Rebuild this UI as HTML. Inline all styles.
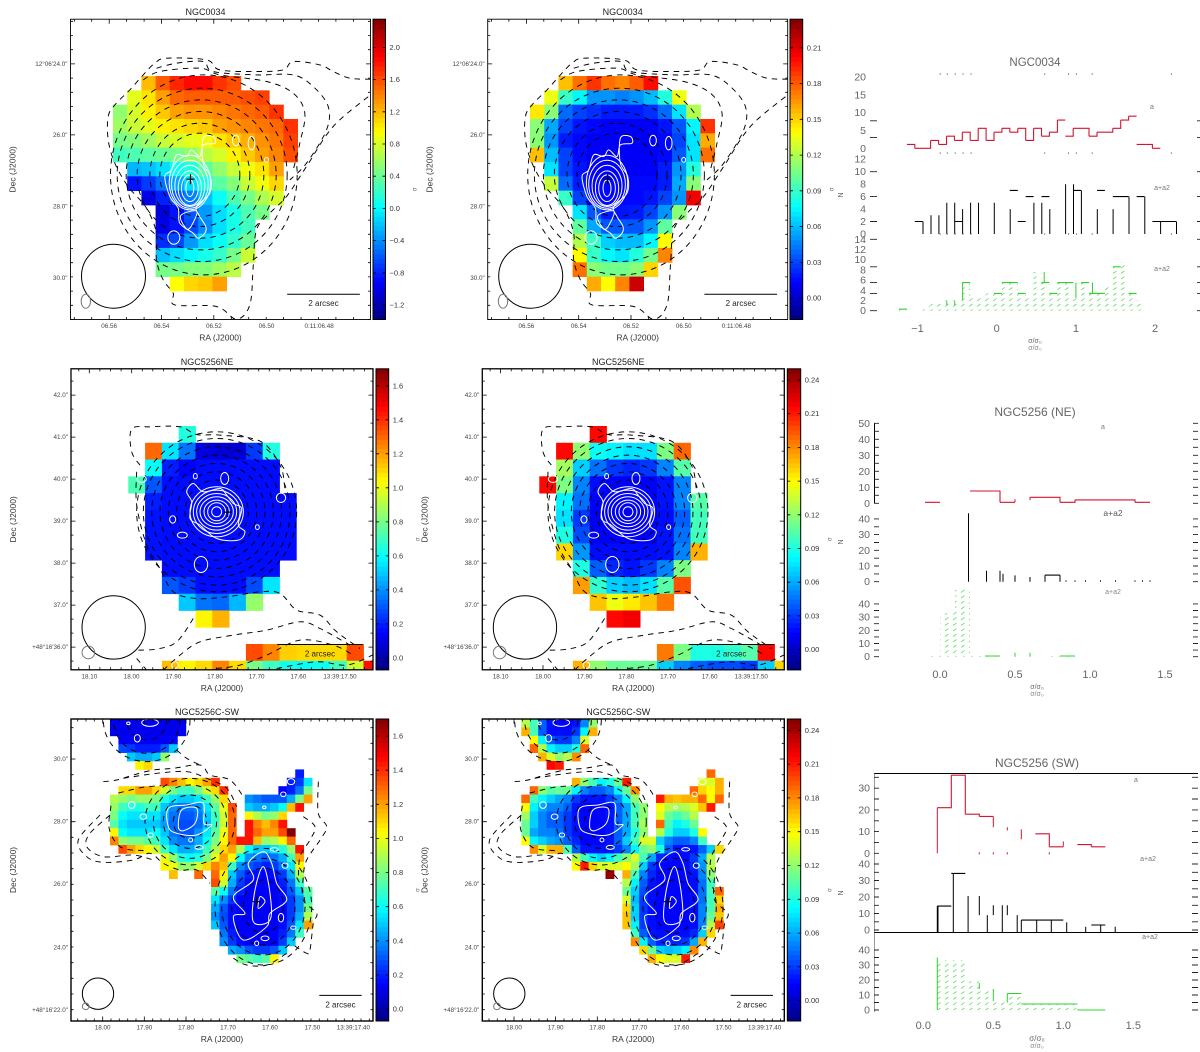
<!DOCTYPE html>
<html lang="en">
<head>
<meta charset="utf-8">
<title>NGC0034 and NGC5256 maps and histograms</title>
<style>
html,body{margin:0;padding:0;background:#fff;width:1200px;height:1052px;overflow:hidden}
svg{display:block;font-family:"Liberation Sans",sans-serif}
</style>
</head>
<body>
<svg id="fig" width="1200" height="1052" viewBox="0 0 1200 1052">
<defs>
<pattern id="hatch" width="8" height="5.5" patternUnits="userSpaceOnUse">
<line x1="1" y1="4" x2="4.5" y2="1.5" stroke="#6fdc6f" stroke-width="0.8"/>
</pattern>
</defs>
</svg>
<script>
/* ---------- heat-map values (one segment = [startColumn, value, value, ...]) ---------- */
const map1Rows=[
[[2,1.2,1.55,1.75,1.85,1.85,1.7,1.6]],
[[1,.85,1.05,1.3,1.5,1.55,1.55,1.55,1.55,1.6,1.65]],
[[0,.55,.8,1.0,1.15,1.3,1.35,1.35,1.4,1.45,1.5,1.55,1.7]],
[[0,.6,.75,.85,1.0,1.05,1.1,1.15,1.3,1.35,1.4,1.45,1.5,1.7]],
[[0,.45,.5,.6,.75,.8,.85,.9,1.05,1.15,1.25,1.35,1.45,1.65]],
[[0,.25,.3,.35,.4,.45,.55,.7,.8,1.0,1.15,1.3,1.4,1.6]],
[[1,-.25,-.2,-.1,.05,.15,.35,.55,.75,.9,1.05,1.3]],
[[1,-.85,-.7,-.5,-.3,-.1,.1,.35,.5,.75,.9,1.1]],
[[2,-1.0,-.8,-.6,-.45,-.2,.05,.3,.45,.65,.8]],
[[3,-1.05,-.85,-.6,-.35,-.1,.1,.3,.45]],
[[3,-1.0,-.85,-.65,-.4,-.1,.1,.25]],
[[3,-.75,-.65,-.35,-.1,.05,.2,.4]],
[[3,-.2,-.1,0,.1,.2,.45,.75]],
[[3,.45,.45,.5,.5,.6,.7]],
[[4,.95,1.1,1.15,1.3]]
];
const map2Rows=[
[[2,.155,.175,.19,.175,.17,.18,.2]],
[[1,.135,.09,.075,.05,.05,.045,.05,.06,.085,.135]],
[[0,.145,.11,.04,.03,.025,.02,.02,.02,.025,.04,.07,.12]],
[[0,.11,.055,.03,.018,.015,.012,.012,.012,.012,.018,.035,.075,.19]],
[[0,.11,.05,.02,.015,.012,.012,.012,.012,.012,.015,.03,.07,.16]],
[[0,.155,.06,.03,.015,.012,.012,.012,.012,.012,.015,.035,.07,.175]],
[[1,.07,.03,.018,.012,.012,.012,.012,.012,.02,.05,.085]],
[[1,.125,.04,.02,.015,.015,.015,.015,.015,.02,.055,.11]],
[[2,.09,.03,.015,.015,.015,.015,.018,.03,.05,.205]],
[[3,.07,.035,.02,.018,.02,.03,.05,.11]],
[[3,.1,.055,.035,.035,.035,.05,.1]],
[[3,.12,.09,.065,.06,.06,.075,.14]],
[[3,.14,.09,.075,.07,.085,.105,.17]],
[[3,.175,.11,.105,.105,.11,.15]],
[[4,.16,.14,.17,.215]]
];
const map3Rows=[
[[3,.65]],
[[1,1.3,.55,.35,.1,.08,.08,.25,.65]],
[[1,.6,.2,.15,.17,.17,.17,.17,.17]],
[[0,.72,.3,.17,.17,.17,.17,.17,.17,.17]],
[[1,.2,.17,.17,.17,.17,.17,.17,.17,.17]],
[[1,.18,.17,.17,.17,.17,.17,.17,.17,.17]],
[[1,.18,.17,.17,.17,.17,.17,.17,.17,.17]],
[[1,.18,.17,.17,.17,.17,.17,.17,.17,.17]],
[[2,.17,.17,.17,.17,.17,.17,.17]],
[[2,.3,.25,.17,.17,.17,.28,.55]],
[[3,.5,.35,.33,.47,.85]],
[[4,1.05,1.17]],
[],
[[7,1.35,1.25,1.12,1.1,1.1,1.1,1.35]],
[[2,1.15,1.05,1.1,1.25,1.1,.8,.7,.62,.6,.62,.7,.95,1.45]]
];
const map4Rows=[
[[3,.215]],
[[1,.215,.12,.085,.08,.075,.075,.115,.19]],
[[1,.125,.07,.045,.03,.025,.03,.05,.105]],
[[0,.215,.115,.05,.018,.015,.015,.015,.02,.05]],
[[1,.08,.045,.015,.015,.015,.015,.02,.05,.105]],
[[1,.075,.03,.012,.012,.012,.012,.018,.04,.1]],
[[1,.09,.035,.015,.015,.015,.015,.02,.045,.1]],
[[1,.16,.055,.018,.018,.018,.018,.02,.05,.17]],
[[2,.09,.04,.025,.02,.03,.05,.115]],
[[2,.175,.095,.07,.065,.075,.105,.195]],
[[3,.165,.145,.155,.165,.185]],
[[4,.215,.22]],
[],
[[7,.185,.115,.09,.09,.095,.105,.215]],
[[2,.17,.12,.11,.11,.11,.07,.05,.04,.035,.035,.03,.07,.16]]
];
const map5Rows=[
[[0,.12,.12,.12,.12,.12,.12,.12,.12,.12]],
[[0,.12,.12,.12,.12,.12,.12,.12,.12,.13]],
[[1,.14,.14,.14,.14,.14,.14,.16]],
[[1,.28,.25,.2,.2,.2,.3,.5]],
[[2,.5,.45,.45,.5,.85]],
[[3,1.05,1.1]],
[[22,.2]],
[[6,1.35,1.25,1.15,1.05,1.1,1.2,1.4],[21,.2,.25,.55]],
[[1,1.1,1.1,1.2,1.2,1.1,.95,.8,.7,.7,.8,.95,1.1,1.4],[20,.15,.2,.35,.8]],
[[0,.9,.85,.8,.85,.85,.8,.65,.55,.5,.5,.55,.7,.85,1.1],[16,.4,.35,.3,.3,.3,.45,.8,1.2]],
[[0,.85,.7,.65,.65,.7,.7,.5,.4,.35,.35,.4,.55,.75,1.0,1.35],[16,.5,.45,.45,.5,.6,1.15,1.45]],
[[0,.8,.6,.55,.55,.55,.55,.45,.35,.3,.3,.35,.5,.7,.95,1.3],[16,1.05,.9,.8,.85,1.1]],
[[0,.75,.55,.5,.5,.5,.5,.42,.33,.28,.28,.33,.48,.68,.95,1.3],[16,1.45,1.25,1.15,1.25,1.45]],
[[0,1.05,.6,.55,.55,.55,.6,.5,.35,.3,.3,.4,.55,.75,1.0,1.3],[16,1.45,1.3,1.2,1.2,1.35,1.7]],
[[0,1.25,.85,.8,.8,.75,.7,.55,.4,.35,.35,.45,.6,.8,1.05,1.3,1.45,1.45,1.15,.85,.9,1.05,1.3]],
[[1,1.35,1.2,1.1,1.05,.95,.7,.55,.45,.45,.5,.7,.9,1.1,1.2,.9,.6,.5,.5,.55,.65,.85,1.45]],
[[6,1.0,.85,.65,.6,.65,.8,1.0,1.2,1.05,.6,.4,.35,.3,.35,.45,.7,1.2]],
[[6,1.05,1.0,.85,.85,.95,1.1,1.25,1.15,.7,.4,.3,.25,.2,.25,.35,.55,1.05]],
[[7,1.15],[10,1.3],[12,1.3,1.05,.5,.3,.2,.17,.15,.17,.25,.45,.9]],
[[12,1.35,.95,.45,.25,.17,.15,.14,.15,.2,.35,.7]],
[[12,.75,.6,.35,.2,.15,.14,.14,.14,.17,.3,.5,.75]],
[[12,.55,.4,.25,.15,.14,.14,.14,.14,.17,.25,.4,.7]],
[[12,.45,.3,.17,.14,.14,.14,.14,.14,.15,.25,.4,.8]],
[[12,.4,.28,.17,.14,.14,.14,.14,.14,.15,.25,.45,.9]],
[[12,.5,.3,.17,.14,.14,.14,.14,.14,.17,.3,.55,1.2]],
[[13,.35,.2,.14,.14,.14,.14,.14,.2,.35,.7]],
[[13,.4,.25,.17,.14,.14,.14,.14,.25,.5]],
[[14,.45,.4,.3,.25,.25,.3,.5]],
[[15,.8,.75,.7,.75,1.05]]
];
const map6Rows=[
[[0,.13,.1,.04,.02,.015,.015,.02,.05,.12]],
[[0,.17,.1,.04,.018,.018,.018,.03,.08,.17]],
[[1,.15,.08,.04,.03,.03,.05,.14]],
[[1,.19,.13,.08,.07,.07,.09,.19]],
[[2,.17,.14,.12,.13,.18]],
[[3,.215,.21]],
[[22,.19]],
[[6,.17,.12,.1,.08,.09,.11,.21],[21,.14,.14,.17]],
[[1,.19,.12,.105,.11,.11,.08,.05,.04,.04,.05,.08,.11,.18],[20,.19,.16,.15,.17]],
[[0,.19,.1,.08,.07,.06,.05,.03,.02,.02,.02,.03,.05,.08,.12],[16,.21,.17,.165,.17,.17,.19,.15,.19]],
[[0,.15,.08,.06,.05,.05,.04,.02,.016,.016,.016,.02,.04,.06,.1,.12],[16,.15,.13,.125,.13,.14,.165,.21]],
[[0,.125,.07,.05,.04,.04,.03,.02,.016,.016,.016,.02,.04,.06,.1,.12],[16,.14,.11,.1,.11,.13]],
[[0,.11,.07,.05,.04,.04,.03,.02,.016,.016,.016,.02,.04,.06,.1,.125],[16,.19,.1,.08,.09,.11]],
[[0,.11,.06,.05,.05,.045,.03,.02,.016,.016,.016,.02,.04,.06,.09,.12],[16,.13,.09,.07,.07,.09,.15]],
[[0,.15,.08,.07,.06,.055,.04,.025,.016,.016,.016,.02,.04,.07,.1,.14,.14,.07,.05,.04,.04,.05,.1]],
[[1,.18,.14,.17,.17,.1,.04,.02,.02,.02,.02,.03,.05,.08,.11,.12,.09,.04,.02,.02,.02,.04,.07,.16]],
[[6,.13,.1,.08,.07,.08,.1,.12,.14,.1,.06,.025,.018,.016,.018,.03,.06,.13]],
[[6,.15,.21,.16,.14,.14,.14,.15,.125,.07,.03,.018,.016,.016,.018,.025,.055,.13]],
[[10,.245],[12,.17,.1,.05,.025,.016,.016,.016,.016,.02,.05,.12]],
[[12,.13,.08,.04,.02,.016,.016,.016,.016,.018,.045,.1]],
[[12,.11,.07,.035,.018,.016,.016,.016,.016,.018,.045,.1,.19]],
[[12,.14,.065,.03,.018,.016,.016,.016,.016,.018,.045,.1,.16]],
[[12,.16,.07,.03,.018,.016,.016,.016,.016,.018,.05,.1,.17]],
[[12,.165,.07,.03,.018,.016,.016,.016,.016,.018,.05,.11,.165]],
[[12,.165,.08,.03,.018,.016,.016,.016,.016,.018,.05,.13,.2]],
[[13,.1,.04,.02,.018,.018,.018,.018,.025,.07,.16]],
[[13,.18,.08,.04,.025,.025,.025,.03,.06,.17]],
[[14,.16,.11,.07,.065,.07,.08,.18]],
[[15,.17,.15,.14,.14,.21]]
];

/* ---------- contour levels, in map-offset units (0..~900 across a frame) ---------- */
const row1DashRings=[[388,467,120,125],[388,467,150,155],[390,467,190,190],[392,467,225,225],[395,467,255,260],[400,467,280,300]];
const row1DashLines=[
[[900,180],[838,177],[788,157],[748,137],[668,127],[638,152],[558,157],[448,152],[408,122],[288,117],[253,132],[218,167],[178,212],[133,257],[113,292],[113,362],[133,432],[173,502],[228,567],[258,642],[258,722],[278,782],[308,822],[313,857],[438,862],[498,900],[538,857],[548,742],[558,632],[598,582],[648,532],[708,442],[788,322],[900,227]],
[[258,147],[318,132],[398,127],[428,157],[558,167],[668,167],[728,202],[773,262],[768,332],[708,432],[658,482]],
[[218,182],[268,157],[388,147],[448,167],[588,187],[668,222],[703,282],[688,372],[668,452]]
];
const row1WhiteRings=[[358,507,12,25],[358,507,25,40],[358,507,35,52],[358,500,45,62],[358,495,55,72],[358,490,62,82]];
const row1WhiteLoops=[
[[398,357],[428,352],[433,372],[398,377],[388,412],[363,392],[348,412],[318,407],[303,452],[283,472],[298,532],[323,567],[328,612],[368,642],[383,657],[403,642],[406,622],[388,592],[378,562],[418,522],[420,472],[398,432]],
[[330,590],[350,630],[368,610],[378,575]]
];
const row1WhiteBlobs=[[496,364,10,16],[543,372,10,20],[588,422,6,7],[310,655,18,20]];

const row2DashRings=[[437,429,95,95],[437,429,120,120],[437,429,145,145],[437,429,170,170],[437,429,195,195],[437,429,220,220],[437,429,240,240]];
const row2DashLines=[
[[207,289],[182,249],[182,181],[237,174],[327,174],[377,197],[447,199],[567,217],[627,289],[642,359]],
[[197,309],[197,409],[227,529],[267,599],[307,669],[377,689],[467,684],[567,669],[627,674],[677,724],[747,739],[797,789],[867,839]],
[[367,749],[317,819],[257,841],[187,844]],
[[197,869],[227,904]],
[[277,904],[327,859],[387,819],[487,799],[587,784],[687,759],[747,779],[837,829]],
[[437,899],[507,889],[587,859],[687,814],[787,829],[847,859]],
[[617,899],[737,879],[827,889],[905,859]]
];
const row2WhiteRings=[[437,429,15,15],[437,429,27,27],[437,429,38,35],[437,429,50,45],[437,429,60,55],[437,429,70,65],[437,429,80,75]];
const row2WhiteLoops=[
[[347,369],[367,344],[397,369],[447,359],[467,379],[487,404],[512,419],[502,469],[522,489],[502,514],[437,509],[387,469],[357,449],[362,399]]
];
const row2WhiteBlobs=[[373,322,6,8],[461,329,12,18],[630,387,14,14],[305,452,9,11],[559,475,6,7],[334,499,15,9],[390,587,20,24],[212,331,14,10],[312,889,10,10]];

const row3DashRings=[[357,308,50,50],[357,308,80,80],[357,308,110,110],[357,308,135,130],[577,563,60,80],[577,563,95,115],[577,563,125,145],[577,563,145,175],[227,3,60,60],[227,3,100,100],[227,3,130,125]];
const row3DashLines=[
[[97,188],[137,183],[187,168],[247,153],[307,148],[387,138],[417,168],[477,183],[517,233]],
[[87,288],[22,363],[47,413],[97,430],[187,423],[237,403],[277,433],[327,453],[377,453],[417,493]],
[[157,178],[257,163],[347,158],[407,178],[467,208],[497,263]],
[[117,288],[57,343],[47,383],[97,413],[187,408],[247,423]],
[[742,188],[742,283],[767,323],[747,363],[707,423],[697,473],[697,543],[737,583],[727,613],[717,693],[707,703],[667,678]],
[[697,293],[732,323],[717,363],[687,413],[682,483]],
[[317,93],[347,118],[387,138]],
[[487,718],[527,738],[587,738],[647,703]],
[[142,222],[215,205],[270,200]],
[[120,260],[115,330],[150,385],[220,395]]
];
const row3WhiteRings=[];
const row3WhiteLoops=[
[[292,268],[347,258],[397,253],[399,313],[422,318],[377,348],[317,343],[292,323]],
[[332,273],[377,268],[372,313],[337,335],[322,323]],
[[577,398],[602,433],[617,493],[647,543],[597,583],[587,623],[517,663],[487,593],[522,583],[487,533],[547,483],[532,433]],
[[577,443],[597,523],[597,603],[547,608],[552,513]],
[[567,533],[582,548],[562,568]]
];
const row3WhiteBlobs=[[182,258,10,10],[217,293,10,8],[239,348,8,6],[359,363,6,6],[384,385,12,6],[610,391,12,5],[642,440,9,8],[660,188,11,9],[637,226,8,7],[580,265,5,4],[630,596,8,13],[667,626,8,5],[582,658,12,7],[557,673,6,7],[237,11,25,11],[199,58,9,11],[172,13,5,4]];

/* ---------- map axis ticks and labels ---------- */
const row1XTicks=[116,273,430,588,746];
const row1YTicks=[134,347,562,777];
const row1YLabels=['12°06\'24.0"','26.0"','28.0"','30.0"'];
const row1XLabels=['06.56','06.54','06.52','06.50','0:11:06.48'];
const row2XTicks=[55,182,307,432,557,682,807];
const row2YTicks=[79,205,331,457,583,709,835];
const row2XLabels=['18.10','18.00','17.90','17.80','17.70','17.60','13:39:17.50'];
const row2YLabels=['42.0"','41.0"','40.0"','39.0"','38.0"','37.0"','+48°16\'36.0"'];
const row3XTicks=[95,220,345,471,597,724,847];
const row3YTicks=[120,308,495,685,873];
const row3XLabels=['18.00','17.90','17.80','17.70','17.60','17.50','13:39:17.40'];
const row3YLabels=['30.0"','28.0"','26.0"','24.0"','+48°16\'22.0"'];

/* ---------- colour-bar ticks ---------- */
const bar1Ticks=[-1.2,-.8,-.4,0,.4,.8,1.2,1.6,2.0];
const bar1Labels=['−1.2','−0.8','−0.4','0.0','0.4','0.8','1.2','1.6','2.0'];
const bar2Ticks=[0,.03,.06,.09,.12,.15,.18,.21];
const bar2Labels=['0.00','0.03','0.06','0.09','0.12','0.15','0.18','0.21'];
const bar3Ticks=[0,.2,.4,.6,.8,1,1.2,1.4,1.6];
const bar3Labels=['0.0','0.2','0.4','0.6','0.8','1.0','1.2','1.4','1.6'];
const bar4Ticks=[0,.03,.06,.09,.12,.15,.18,.21,.24];
const bar4Labels=['0.00','0.03','0.06','0.09','0.12','0.15','0.18','0.21','0.24'];

/* ---------- histogram series ---------- */
const hist1Red=[1.1,0,0,2.2,1.1,3.4,2.2,4.5,2.2,5.6,2.2,4.5,5.6,4.5,5.6,2.2,5.6,3.4,4.5,7.9,3.4,5.6,5.6,3.4,4.5,4.5,5.6,7.9,9,1.1,1.1,0];
const hist1BlackCaps=[null,2,null,null,null,null,2,null,null,null,null,null,null,7,2,6,null,6,null,null,null,7,null,null,7,null,6,6,null,6,null,2,2,2];
const hist1BlackStems=[[-.93,0,2],[-.83,0,3],[-.73,0,3],[-.63,0,5],[-.53,0,5],[-.43,0,4],[-.33,0,5],[-.23,0,5],[-.03,0,5],[.17,0,4],[.47,0,5],[.57,0,5],[.67,0,4],[.87,0,8],[.97,0,8],[1.07,0,7],[1.27,0,4],[1.47,0,4],[1.67,0,6],[1.87,0,6],[2.07,0,2],[2.27,0,2]];
const hist1GreenHatch=[.3,0,0,1,1.5,2,2,2,5.5,2.5,3,3.4,3.4,5.5,5.5,3.4,3,7.6,5.5,3.4,5.5,5.5,3,5.5,3.4,3.4,5,8.6,9.5,3.4,2,0];
const hist1GreenCaps=[.3,null,null,null,null,null,null,null,5.5,null,null,null,3.4,5.5,5.5,3.4,null,null,5.5,3.4,5.5,5.5,null,5.5,3.4,3.4,null,8.6,null,3.4];
const hist1GreenStems=[[-.63,1,2],[-.53,1,2],[-.43,2,5.5],[.6,5.5,7.6],[1,2.5,5.5],[1.21,3.4,5.5]];
const hist1RedTicks=[3,7.7];
const hist1RedLabels=[0,5,10,15,20];
const hist1BlackTicks=[2,6,10];
const hist1BlackLabels=[0,2,4,6,8,10,12];
const hist1GreenTicks=[0,3.4,5.5,8.6,14];
const hist1GreenLabels=[0,2,4,6,8,10,12,14];
const hist1XTicks=[-1,0,1,2];
const hist1XLabels=['−1','0','1','2'];
const hist1Dots=[-.72,-.63,-.53,-.43,-.33,.6,.9,1,1.2,2.2];

const hist2Red=[.6,null,null,7.7,7.7,.6,null,3.75,3.75,.6,2.1,2.1,2.1,2.1,.6];
const hist2RedStems=[[.5,.6,2.5],[.6,2,3.75]];
const hist2BlackCaps=[null,null,null,null,null,null,null,null,4.2];
const hist2BlackStems=[[.19,0,43.6],[.31,0,7],[.4,0,7],[.42,0,5],[.5,0,4],[.6,0,3],[.7,0,4.2],[.8,0,4.2],[.84,0,.8],[.9,0,.8],[.97,0,.8],[1.07,0,.8],[1.17,0,.8],[1.3,0,.8],[1.35,0,.8],[1.4,0,.8]];
const hist2GreenHatch=[.5,33,52,2,.5,0,0,0,.5,.5];
const hist2GreenCaps=[null,null,null,null,.5,null,null,null,null,.5];
const hist2GreenStems=[[.5,0,3],[.6,0,3]];
const hist2RedTicks=[0,5,10,15,20,25,30,35,40,45,50];
const hist2RedLabels=[0,10,20,30,40,50];
const hist2BlackTicks=[0,5,10,15,20,25,30,35,40];
const hist2BlackLabels=[0,10,20,30,40];
const hist2GreenTicks=[0,5,10,15,20,25,30,35,40];
const hist2GreenLabels=[0,10,20,30,40];
const hist2XTicks=[0,.5,1,1.5];
const hist2XLabels=['0.0','0.5','1.0','1.5'];

const hist3Red=[21,36,18,17,null,null,null,9,3,null,4,3];
const hist3RedStems=[[.1,0,21],[.5,12,17],[.6,10.5,12],[.7,6.5,11],[1.0,3,5.5],[.4,-.5,.5],[.5,-.5,.5],[.6,-.5,.5],[.9,-.5,.5]];
const hist3BlackCaps=[14.5,34.3,null,null,null,null,6,6,6,null,null,3];
const hist3BlackStems=[[.1,-1.4,14.5],[.105,-1.4,14.5],[.214,-1.4,34.3],[.32,-1.4,20.6],[.4,9,20.6],[.457,-1.4,9],[.5,9,15],[.564,-1.4,15],[.6,9,15],[.671,-1.4,9],[.7,-1.4,6],[.81,-1.4,6],[.914,-1.4,6],[1.024,-1.4,4.6],[1.16,-1.4,2],[1.267,-1.4,3],[1.371,-1.4,2]];
const hist3GreenHatch=[33,33,19,14,5,11,4,4,4,4,0,0];
const hist3GreenCaps=[null,null,null,null,null,11,4,4,4,4,0,0];
const hist3GreenStems=[[.1,0,35],[.4,14,18],[.5,6,14],[.6,5,11]];
const hist3RedTicks=[0,5,10,15,20,25,30,35];
const hist3RedLabels=[0,10,20,30];
const hist3BlackTicks=[0,5,10,15,20,25,30,35,40];
const hist3BlackLabels=[0,10,20,30,40];
const hist3GreenTicks=[0,5,10,15,20,25,30,35,40];
const hist3GreenLabels=[0,10,20,30,40];
const hist3XTicks=[0,.5,1,1.5];
const hist3XLabels=['0.0','0.5','1.0','1.5'];

/* ---------- drawing ---------- */
const root=document.getElementById('fig');
const svgNS=root.namespaceURI;
function make(tag,attrs,parent,content){
  const el=document.createElementNS(svgNS,tag);
  for(const k in attrs)el.setAttribute(k,attrs[k]);
  if(content!==undefined)el.textContent=content;
  parent.appendChild(el);
  return el;
}
function label(parent,x,y,str,size,anchor,fill){
  const el=make('text',{x:x,y:y,'font-size':size,'text-anchor':anchor||'middle',fill:fill||'#333'},parent,str);
  
  
  return el;
}
function jet(t){
  t=Math.max(0,Math.min(1,t));
  const ch=function(c){return Math.round(255*Math.max(0,Math.min(1,1.5-Math.abs(4*t-c))));};
  return 'rgb('+ch(3)+','+ch(2)+','+ch(1)+')';
}
function smooth(pts,closed){
  const n=pts.length;
  const at=function(i){return closed?pts[(i+n)%n]:pts[Math.max(0,Math.min(n-1,i))];};
  let d='M'+pts[0][0]+' '+pts[0][1];
  const last=closed?n:n-1;
  for(let i=0;i<last;i++){
    const p0=at(i-1),p1=at(i),p2=at(i+1),p3=at(i+2);
    d+='C'+(p1[0]+(p2[0]-p0[0])/6).toFixed(1)+' '+(p1[1]+(p2[1]-p0[1])/6).toFixed(1)+' '+(p2[0]-(p3[0]-p1[0])/6).toFixed(1)+' '+(p2[1]-(p3[1]-p1[1])/6).toFixed(1)+' '+p2[0].toFixed(1)+' '+p2[1].toFixed(1);
  }
  return d+(closed?'Z':'');
}
function drawMap(p){
  const g=make('g',{},root);
  
  
  const mx=function(u){return p.fx+u/3;};
  const my=function(v){return p.fy+v/3;};
  const clipId='clip-'+p.name;
  const cp=make('clipPath',{id:clipId},g);
  make('rect',{x:p.fx,y:p.fy,width:p.fw,height:p.fh},cp);
  const inner=make('g',{'clip-path':'url(#'+clipId+')'},g);
  const colorOf=function(v){return jet((v-p.vmin)/(p.vmax-p.vmin));};
  const gx=function(c){return p.gx+c*p.cw;};
  const gy=function(r){return p.gy+r*p.ch;};
  p.rows.forEach(function(row,r){
    row.forEach(function(seg){
      seg.slice(1).forEach(function(v,i){
        const c=seg[0]+i;
        const cell=make('rect',{x:gx(c).toFixed(2),y:gy(r).toFixed(2),width:(p.cw+.4).toFixed(2),height:(p.ch+.4).toFixed(2),fill:colorOf(v)},inner);
        
        
      });
    });
  });
  const c=p.contours;
  c.dashRings.forEach(function(e){
    const el=make('ellipse',{cx:mx(e[0]),cy:my(e[1]),rx:e[2]/3,ry:e[3]/3,fill:'none',stroke:'#000','stroke-width':.95,'stroke-dasharray':'5.5 5'},inner);
    
    
  });
  c.dashLines.forEach(function(line){
    const pts=line.map(function(q){return [mx(q[0]),my(q[1])];});
    const el=make('path',{d:smooth(pts,false),fill:'none',stroke:'#000','stroke-width':.95,'stroke-dasharray':'5.5 5'},inner);
    
    
  });
  c.whiteRings.concat(c.whiteBlobs).forEach(function(e){
    const el=make('ellipse',{cx:mx(e[0]),cy:my(e[1]),rx:e[2]/3,ry:e[3]/3,fill:'none',stroke:'#fff','stroke-width':1},inner);
    
    
  });
  c.whiteLoops.forEach(function(loop){
    const pts=loop.map(function(q){return [mx(q[0]),my(q[1])];});
    const el=make('path',{d:smooth(pts,true),fill:'none',stroke:'#fff','stroke-width':1},inner);
    
    
  });
  const beam=make('circle',{cx:mx(p.beam[0]),cy:my(p.beam[1]),r:p.beam[2]/3,fill:'none',stroke:'#000','stroke-width':1},inner);
  
  
  const beam2=make('ellipse',{cx:mx(p.psf[0]),cy:my(p.psf[1]),rx:p.psf[2]/3,ry:p.psf[3]/3,fill:'none',stroke:'#777','stroke-width':1},inner);
  
  
  const sb=make('line',{x1:mx(p.scale[0]),x2:mx(p.scale[1]),y1:my(p.scale[2]),y2:my(p.scale[2]),stroke:'#000','stroke-width':1},inner);
  
  
  label(inner,mx((p.scale[0]+p.scale[1])/2),my(p.scale[2])+12,'2 arcsec',8,'middle','#222');
  if(p.cross){
    const cr=make('path',{d:'M'+(mx(p.cross[0])-4)+' '+my(p.cross[1])+'h8M'+mx(p.cross[0])+' '+(my(p.cross[1])-5)+'v10',stroke:'#000','stroke-width':1.2,fill:'none'},inner);
    
    
  }
  /* frame and ticks */
  const frame=make('rect',{x:p.fx,y:p.fy,width:p.fw,height:p.fh,fill:'none',stroke:'#000','stroke-width':p.sw},g);
  
  
  let td='';
  const xStep=(p.xTicks[1]-p.xTicks[0])/p.xSub;
  const x0=p.xTicks[0]%xStep;
  for(let u=x0;u<p.fw*3;u+=xStep){
    const major=p.xTicks.some(function(t){return Math.abs(t-u)<1;});
    const len=major?4.5:2.5;
    td+='M'+mx(u).toFixed(1)+' '+p.fy+'v'+len+'M'+mx(u).toFixed(1)+' '+(p.fy+p.fh)+'v-'+len;
  }
  const yStep=(p.yTicks[1]-p.yTicks[0])/p.ySub;
  const y0=p.yTicks[0]%yStep;
  for(let v=y0;v<p.fh*3;v+=yStep){
    const major=p.yTicks.some(function(t){return Math.abs(t-v)<1;});
    const len=major?4.5:2.5;
    td+='M'+p.fx+' '+my(v).toFixed(1)+'h'+len+'M'+(p.fx+p.fw)+' '+my(v).toFixed(1)+'h-'+len;
  }
  const ticks=make('path',{d:td,stroke:'#000','stroke-width':.8,fill:'none'},g);
  
  
  p.xTicks.forEach(function(t,i){label(g,mx(t),p.fy+p.fh+8.5,p.xLabels[i],6.3,'middle','#444');});
  p.yTicks.forEach(function(t,i){label(g,p.fx-3,my(t)+2,p.yLabels[i],6.3,'end','#444');});
  label(g,p.fx+p.fw/2-2+p.titleShift,p.fy-4,p.title,9,'middle','#222');
  label(g,p.fx+p.fw/2,p.fy+p.fh+21,'RA (J2000)',8.5,'middle','#333');
  const yl=label(g,0,0,'Dec (J2000)',8.5,'middle','#333');
  yl.setAttribute('transform','translate('+(p.fx-55)+' '+(p.fy+p.fh/2)+') rotate(-90)');
  /* colour bar */
  const byOf=function(v){return p.fy+(p.vmax-v)/(p.vmax-p.vmin)*p.fh;};
  const steps=64;
  for(let i=0;i<steps;i++){
    const t0=i/steps;
    const seg=make('rect',{x:p.bx,y:(p.fy+p.fh*(1-t0-1/steps)).toFixed(2),width:p.bw,height:(p.fh/steps+.5).toFixed(2),fill:jet(t0+.5/steps)},g);
    
    
  }
  const bf=make('rect',{x:p.bx,y:p.fy,width:p.bw,height:p.fh,fill:'none',stroke:'#000','stroke-width':1},g);
  
  
  p.barTicks.forEach(function(v,i){
    const y=byOf(v);
    const t=make('path',{d:'M'+p.bx+' '+y.toFixed(1)+'h3M'+(p.bx+p.bw)+' '+y.toFixed(1)+'h-3',stroke:'#000','stroke-width':.8},g);
    
    
    label(g,p.bx+p.bw+4,y+2.5,p.barLabels[i],7.5,'start','#333');
  });
  const cl=label(g,0,0,'σ',6,'middle','#666');
  cl.setAttribute('transform','translate('+(p.bx+p.bw+31)+' '+(p.fy+p.fh/2+20)+') rotate(-90)');
}
const row1Contours={dashRings:row1DashRings,dashLines:row1DashLines,whiteRings:row1WhiteRings,whiteLoops:row1WhiteLoops,whiteBlobs:row1WhiteBlobs};
const row2Contours={dashRings:row2DashRings,dashLines:row2DashLines,whiteRings:row2WhiteRings,whiteLoops:row2WhiteLoops,whiteBlobs:row2WhiteBlobs};
const row3Contours={dashRings:row3DashRings,dashLines:row3DashLines,whiteRings:row3WhiteRings,whiteLoops:row3WhiteLoops,whiteBlobs:row3WhiteBlobs};
const row1Common={fy:19.2,fw:300,fh:300.3,sw:.9,gy:76,cw:14.2,ch:14.33,xTicks:row1XTicks,yTicks:row1YTicks,xLabels:row1XLabels,yLabels:row1YLabels,xSub:3,ySub:5,contours:row1Contours,beam:[129,771,96],psf:[46,846,14,21],scale:[650,868,825],title:'NGC0034',titleShift:-13};
const row2Common={fy:368.8,fw:302,fh:301,sw:1.3,gy:426,cw:16.8,ch:16.77,xTicks:row2XTicks,yTicks:row2YTicks,xLabels:row2XLabels,yLabels:row2YLabels,xSub:4,ySub:3,contours:row2Contours,beam:[128,776,95],psf:[52,851,19,19],scale:[619,875,827],title:'NGC5256NE',titleShift:-13};
const row3Common={fy:719,fw:302,fh:302,sw:1.4,gy:719,cw:8.42,ch:8.4,xTicks:row3XTicks,yTicks:row3YTicks,xLabels:row3XLabels,yLabels:row3YLabels,xSub:5,ySub:4,contours:row3Contours,beam:[81,824,47],psf:[44,862,10,10],scale:[745,872,829],title:'NGC5256C-SW',titleShift:-13};
drawMap(Object.assign({},row1Common,{name:'map-ngc0034-velocity',fx:70.5,bx:373,bw:12.5,gx:113,rows:map1Rows,vmin:-1.38,vmax:2.35,barTicks:bar1Ticks,barLabels:bar1Labels,cross:[360,480]}));
drawMap(Object.assign({},row1Common,{name:'map-ngc0034-dispersion',fx:487.7,bx:790,bw:12.7,gx:530,rows:map2Rows,vmin:-.018,vmax:.234,barTicks:bar2Ticks,barLabels:bar2Labels,cross:[360,480]}));
drawMap(Object.assign({},row2Common,{name:'map-ngc5256ne-velocity',fx:71,bx:376,bw:12.7,gx:128.3,rows:map3Rows,vmin:-.07,vmax:1.7,barTicks:bar3Ticks,barLabels:bar3Labels,cross:[470,430]}));
drawMap(Object.assign({},row2Common,{name:'map-ngc5256ne-dispersion',fx:482.3,bx:787.3,bw:13.4,gx:539.3,rows:map4Rows,vmin:-.018,vmax:.25,barTicks:bar4Ticks,barLabels:bar4Labels}));
drawMap(Object.assign({},row3Common,{name:'map-ngc5256sw-velocity',fx:71,bx:376,bw:12.7,gx:110,rows:map5Rows,vmin:-.07,vmax:1.7,barTicks:bar3Ticks,barLabels:bar3Labels,cross:[557,548]}));
drawMap(Object.assign({},row3Common,{name:'map-ngc5256sw-dispersion',fx:482.3,bx:787.3,bw:13.4,gx:521.3,rows:map6Rows,vmin:-.018,vmax:.25,barTicks:bar4Ticks,barLabels:bar4Labels,cross:[557,548]}));

/* histograms */
function binSteps(g,values,start,width,xf,yf,color,maxJoin,sw){
  let d='';
  values.forEach(function(v,i){
    if(v===null)return;
    const x1=xf(start+i*width),x2=xf(start+(i+1)*width),y=yf(v);
    d+='M'+x1.toFixed(1)+' '+y.toFixed(1)+'H'+x2.toFixed(1);
    const nx=values[i+1];
    if(nx!==null&&nx!==undefined&&Math.abs(nx-v)<=maxJoin)d+='V'+yf(nx).toFixed(1);
  });
  const el=make('path',{d:d,fill:'none',stroke:color,'stroke-width':sw||1.1},g);
  
  
}
function stems(g,list,xf,yf,color){
  let d='';
  list.forEach(function(s){d+='M'+xf(s[0]).toFixed(1)+' '+yf(s[1]).toFixed(1)+'V'+yf(s[2]).toFixed(1);});
  const el=make('path',{d:d,fill:'none',stroke:color,'stroke-width':1},g);
  
  
}
function hatch(g,values,start,width,xf,yf){
  let d='M'+xf(start).toFixed(1)+' '+yf(0).toFixed(1);
  values.forEach(function(v,i){
    d+='V'+yf(v).toFixed(1)+'H'+xf(start+(i+1)*width).toFixed(1);
  });
  d+='V'+yf(0).toFixed(1)+'Z';
  const el=make('path',{d:d,fill:'url(#hatch)',stroke:'none'},g);
  
  
}
function yAxis(g,ticks,labels,yf,lx,llen,rx,rlen,lab){
  let d='';
  ticks.forEach(function(t){
    const y=yf(t).toFixed(1);
    d+='M'+lx+' '+y+'h'+llen+'M'+rx+' '+y+'h'+rlen;
  });
  const el=make('path',{d:d,stroke:'#222','stroke-width':.9,fill:'none'},g);
  
  
  labels.forEach(function(v){label(g,lab,yf(v)+3.5,String(v),10.5,'end','#666');});
}
function xAxis(g,ticks,labels,xf,y){
  ticks.forEach(function(t,i){label(g,xf(t),y,labels[i],11,'middle','#666');});
}
function hist(name){
  const g=make('g',{},root);
  
  
  return g;
}
const red='#d2152f',green='#2bd42b';

/* NGC0034 histogram */
(function(){
  const g=hist('histogram-ngc0034');
  const X=function(v){return 996.7+79.2*v;};
  const Yr=function(v){return 148.3-3.57*v;};
  const Yb=function(v){return 234-6.23*v;};
  const Yg=function(v){return 310.7-5.1*v;};
  const s=-1.134,w=.1;
  binSteps(g,hist1Red,s,w,X,Yr,red,3.5);
  binSteps(g,hist1BlackCaps,s,w,X,Yb,'#000',0);
  stems(g,hist1BlackStems,X,Yb,'#000');
  hatch(g,hist1GreenHatch,s-w,w,X,Yg);
  binSteps(g,hist1GreenCaps,s-w,w,X,Yg,green,0);
  stems(g,hist1GreenStems,X,Yg,green);
  yAxis(g,hist1RedTicks,hist1RedLabels,Yr,870,7,1197,3,866);
  yAxis(g,hist1BlackTicks,hist1BlackLabels,Yb,870,7,1197,3,866);
  yAxis(g,hist1GreenTicks,hist1GreenLabels,Yg,870,7,1197,3,866);
  xAxis(g,hist1XTicks,hist1XLabels,X,332);
  hist1Dots.forEach(function(v){
    [73.5,152.5,233.5].forEach(function(y){
      const d=make('rect',{x:X(v).toFixed(1),y:y,width:1,height:1.2,fill:'#555'},g);
      
      
    });
  });
  label(g,1035,66,'NGC0034',11.5,'middle','#666');
  label(g,1035,343,'σ/σ₀',7,'middle','#666');
  label(g,1035,350,'σ/σ₀',7,'middle','#888');
  label(g,1152,109,'a',7,'middle','#777');
  label(g,1162,190,'a+a2',7,'middle','#777');
  label(g,1162,271,'a+a2',7,'middle','#777');
  const n=label(g,0,0,'N',7,'middle','#555');
  n.setAttribute('transform','translate(843 195) rotate(-90)');
})();

/* NGC5256 NE histogram */
(function(){
  const g=hist('histogram-ngc5256-ne');
  const X=function(v){return 940+150*v;};
  const Yr=function(v){return 503.3-1.6*v;};
  const Yb=function(v){return 581.7-1.57*v;};
  const Yg=function(v){return 656.7-1.32*v;};
  const s=-.1,w=.1;
  binSteps(g,hist2Red,s,w,X,Yr,red,10);
  stems(g,hist2RedStems,X,Yr,red);
  binSteps(g,hist2BlackCaps,s,w,X,Yb,'#000',0);
  stems(g,hist2BlackStems,X,Yb,'#000');
  hatch(g,hist2GreenHatch,s,w,X,Yg);
  binSteps(g,hist2GreenCaps,s,w,X,Yg,green,0);
  stems(g,hist2GreenStems,X,Yg,green);
  const ax=make('line',{x1:874.5,x2:874.5,y1:423,y2:503,stroke:'#000','stroke-width':1},g);
  
  
  yAxis(g,hist2RedTicks,hist2RedLabels,Yr,874,5,1193,5,870);
  yAxis(g,hist2BlackTicks,hist2BlackLabels,Yb,874,5,1193,5,870);
  yAxis(g,hist2GreenTicks,hist2GreenLabels,Yg,874,5,1193,5,870);
  xAxis(g,hist2XTicks,hist2XLabels,X,678);
  label(g,1035,416,'NGC5256 (NE)',12,'middle','#666');
  label(g,1037,689,'σ/σ₀',7,'middle','#666');
  label(g,1037,696,'σ/σ₀',7,'middle','#888');
  label(g,1103,429,'a',7,'middle','#777');
  label(g,1113,516,'a+a2',8.5,'middle','#555');
  label(g,1113,594,'a+a2',7,'middle','#888');
  const n=label(g,0,0,'N',7,'middle','#555');
  n.setAttribute('transform','translate(843 542) rotate(-90)');
})();

/* NGC5256 SW histogram */
(function(){
  const g=hist('histogram-ngc5256-sw');
  const X=function(v){return 923.3+140*v;};
  const Yr=function(v){return 853.3-2.17*v;};
  const Yb=function(v){return 930-1.65*v;};
  const Yg=function(v){return 1010-1.5*v;};
  const s=.1,w=.1;
  binSteps(g,hist3Red,s,w,X,Yr,red,40);
  stems(g,hist3RedStems,X,Yr,red);
  binSteps(g,hist3BlackCaps,s,w,X,Yb,'#000',0);
  stems(g,hist3BlackStems,X,Yb,'#000');
  hatch(g,hist3GreenHatch,s,w,X,Yg);
  binSteps(g,hist3GreenCaps,s,w,X,Yg,green,0);
  stems(g,hist3GreenStems,X,Yg,green);
  const top=make('line',{x1:874,x2:1198,y1:773.5,y2:773.5,stroke:'#000','stroke-width':1},g);
  
  
  const mid=make('line',{x1:874,x2:1198,y1:932.5,y2:932.5,stroke:'#000','stroke-width':1},g);
  
  
  const ax=make('line',{x1:874.5,x2:874.5,y1:773,y2:1012,stroke:'#555','stroke-width':.6},g);
  
  
  yAxis(g,hist3RedTicks,hist3RedLabels,Yr,874,5,1192,6,870);
  yAxis(g,hist3BlackTicks,hist3BlackLabels,Yb,874,5,1192,6,870);
  yAxis(g,hist3GreenTicks,hist3GreenLabels,Yg,874,5,1192,6,870);
  xAxis(g,hist3XTicks,hist3XLabels,X,1029);
  label(g,1037,767,'NGC5256 (SW)',12,'middle','#666');
  label(g,1037,1041,'σ/σ₀',8,'middle','#666');
  label(g,1037,1048,'σ/σ₀',7,'middle','#888');
  label(g,1136,782,'a',7,'middle','#777');
  label(g,1148,861,'a+a2',7,'middle','#777');
  label(g,1150,939,'a+a2',7,'middle','#777');
  const n=label(g,0,0,'N',7,'middle','#555');
  n.setAttribute('transform','translate(843 893) rotate(-90)');
})();
</script>
</body>
</html>
